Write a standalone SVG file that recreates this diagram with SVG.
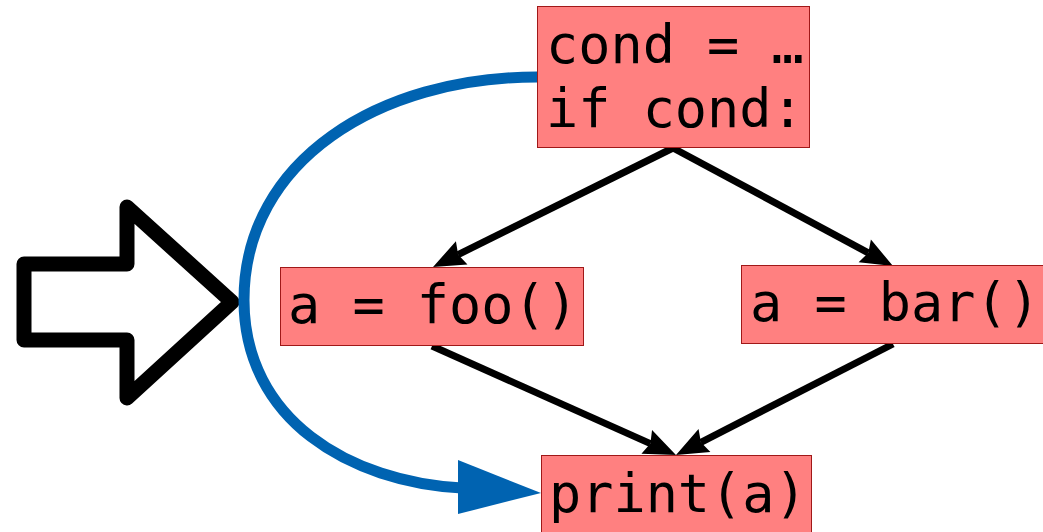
<svg xmlns="http://www.w3.org/2000/svg" width="1043" height="532" viewBox="0 0 1043 532">
  <style>
    .box { fill: #ff8080; stroke: #a01818; stroke-width: 1; }
    .code { font-family: "DejaVu Sans Mono", "Liberation Mono", monospace; font-size: 53.5px; fill: #000; }
    .edge { fill: none; stroke: #000; stroke-width: 7; marker-end: url(#head); }
    .jump { fill: none; stroke: #0063b1; stroke-width: 11; }
  </style>
  <defs>
    <!-- barbed arrowhead; refX sits in the notch so the tip lands 28px past the line end -->
    <marker id="head" markerUnits="userSpaceOnUse" viewBox="0 0 32 26" refX="4" refY="13" markerWidth="32" markerHeight="26" orient="auto" overflow="visible">
      <path d="M0,0 L32,13 L0,26 L4,13 Z" fill="#000"/>
    </marker>
  </defs>

  <!-- block arrow pointing at the jump -->
  <polygon id="pointer" points="24,264 127,264 127,207 232,302 127,398 127,340 24,340" fill="#fff" stroke="#000" stroke-width="15" stroke-linejoin="round"/>

  <g id="connectors">
    <path class="edge" d="M673,148 L458.1,254.6"/>
    <path class="edge" d="M673,148 L868.3,252.8"/>
    <path class="edge" d="M432,346 L650.4,443.6"/>
    <path class="edge" d="M893,344 L700.9,442.3"/>
    <!-- blue bypass from the condition straight to print -->
    <path class="jump" d="M537,77 C380,77 244,160 244,300 C244,420 350,482 462,488"/>
    <path d="M458,460 L541,493 L458,514 Z" fill="#0063b1"/>
  </g>

  <g id="cond">
    <rect class="box" x="537.5" y="6.5" width="272" height="141"/>
    <text class="code" x="546" y="63">cond = …</text>
    <text class="code" x="546" y="127">if cond:</text>
  </g>
  <g id="foo">
    <rect class="box" x="280.5" y="267.5" width="303" height="78"/>
    <text class="code" x="288" y="323">a = foo()</text>
  </g>
  <g id="bar">
    <rect class="box" x="741.5" y="265.5" width="310" height="78"/>
    <text class="code" x="750" y="321">a = bar()</text>
  </g>
  <g id="print">
    <rect class="box" x="541.5" y="455.5" width="270" height="90"/>
    <text class="code" x="549" y="512">print(a)</text>
  </g>
</svg>
